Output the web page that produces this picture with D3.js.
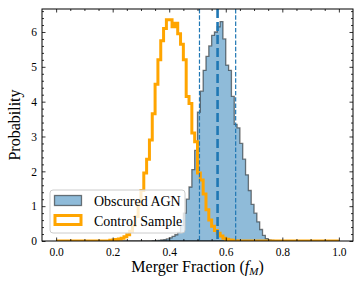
<!DOCTYPE html>
<html>
<head>
<meta charset="utf-8">
<script src="https://cdn.jsdelivr.net/npm/d3@7"></script>
<style>
  body { margin: 0; background: #fff; }
  svg text { font-family: "Liberation Serif", "Times New Roman", serif; fill: #000; }
</style>
</head>
<body>
<div id="chart"></div>
<script>
// bin edges of both histograms: 0.00, 0.01, ... 1.00
const binEdges = d3.range(0, 101).map(i => i / 100);

// Obscured AGN posterior, probability density per 0.01 bin
const agnDensity = [
  0, 0, 0, 0, 0, 0, 0, 0, 0, 0,
  0, 0, 0, 0, 0, 0, 0, 0, 0, 0,
  0, 0, 0, 0, 0, 0, 0, 0, 0, 0,
  0, 0, 0, 0, 0.01, 0.01, 0.02, 0.03, 0.04, 0.06,
  0.09, 0.13, 0.18, 0.25, 0.45, 0.8, 1.2, 1.55, 2.05, 2.6,
  3.7, 4.3, 4.9, 5.3, 5.6, 5.9, 6.0, 6.15, 6.3, 5.8,
  5.05, 4.9, 4.15, 3.35, 3.25, 2.8, 2.35, 1.9, 1.45, 1.05,
  0.8, 0.55, 0.33, 0.16, 0.07, 0.03, 0.02, 0.01, 0.01, 0,
  0, 0, 0, 0, 0, 0, 0, 0, 0, 0,
  0, 0, 0, 0, 0, 0, 0, 0, 0, 0
];

// Control sample posterior
const controlDensity = [
  0, 0, 0, 0, 0, 0, 0, 0, 0, 0,
  0, 0, 0, 0, 0, 0, 0, 0, 0, 0.02,
  0.03, 0.04, 0.06, 0.08, 0.12, 0.18, 0.28, 0.45, 0.7, 1.05,
  1.45, 1.95, 2.35, 2.9, 3.65, 4.5, 5.2, 5.75, 6.1, 6.35,
  6.35, 6.15, 6.25, 5.95, 5.65, 5.2, 4.15, 3.95, 3.1, 2.85,
  1.95, 1.75, 1.35, 0.9, 0.6, 0.42, 0.3, 0.22, 0.14, 0.08,
  0.05, 0.03, 0.02, 0.01, 0, 0, 0, 0, 0, 0,
  0, 0, 0, 0, 0, 0, 0, 0, 0, 0,
  0, 0, 0, 0, 0, 0, 0, 0, 0, 0,
  0, 0, 0, 0, 0, 0, 0, 0, 0, 0
];

// 16th / 50th / 84th percentiles of the AGN posterior
const agnPercentiles = [0.507, 0.571, 0.635];

const xTicks = [0, 0.2, 0.4, 0.6, 0.8, 1.0];
const yTicks = [0, 1, 2, 3, 4, 5, 6];
const legendLabels = ["Obscured AGN", "Control Sample"];

const W = 362, H = 289;
const m = {left: 42, right: 9, top: 9, bottom: 48};

const svg = d3.select("#chart").append("svg")
  .attr("width", W).attr("height", H);

const x = d3.scaleLinear().domain([-0.05, 1.05]).range([m.left, W - m.right]);
const y = d3.scaleLinear().domain([0, 6.66]).range([H - m.bottom, m.top]);

svg.append("clipPath").attr("id", "plotclip")
  .append("rect")
  .attr("x", m.left).attr("y", m.top)
  .attr("width", W - m.left - m.right).attr("height", H - m.top - m.bottom);

const plot = svg.append("g").attr("clip-path", "url(#plotclip)");

function steps(vals) {
  const pts = vals.map((v, i) => [binEdges[i], v]);
  pts.push([binEdges[vals.length], vals[vals.length - 1]]);
  return pts;
}

// AGN: filled step histogram
const agnPts = steps(agnDensity);
plot.append("path")
  .attr("d", d3.area().x(d => x(d[0])).y0(y(0)).y1(d => y(d[1])).curve(d3.curveStepAfter)(agnPts))
  .attr("fill", "#1f77b4").attr("fill-opacity", 0.5)
  .attr("stroke", "#000").attr("stroke-opacity", 0.5).attr("stroke-width", 1.3)
  .attr("stroke-linejoin", "miter");

// control sample: step outline
const ctrlPts = [[binEdges[0], 0]].concat(steps(controlDensity));
ctrlPts.push([binEdges[100], 0]);
plot.append("path")
  .attr("d", d3.line().x(d => x(d[0])).y(d => y(d[1])).curve(d3.curveStepAfter)(ctrlPts))
  .attr("fill", "none")
  .attr("stroke", "#ffa500").attr("stroke-width", 3)
  .attr("stroke-linejoin", "miter");

// percentile lines
plot.selectAll("line.pct")
  .data(agnPercentiles)
  .enter().append("line")
  .attr("class", "pct")
  .attr("x1", d => x(d)).attr("x2", d => x(d))
  .attr("y1", m.top).attr("y2", H - m.bottom)
  .attr("stroke", "#1f77b4")
  .attr("stroke-width", (d, i) => i === 1 ? 2.6 : 1.2)
  .attr("stroke-dasharray", (d, i) => i === 1 ? "9,4" : "4.4,1.9");

// axes with inward ticks on all four sides
function tickAxis(axis, tr, vals, len, labels) {
  const g = svg.append("g").attr("transform", tr)
    .call(axis.tickValues(vals).tickSizeInner(-len).tickSizeOuter(0).tickPadding(4));
  g.select(".domain").remove();
  g.selectAll(".tick line").attr("stroke", "#000").attr("stroke-width", 0.8);
  if (!labels) g.selectAll(".tick text").remove();
  return g;
}
const xMinor = d3.range(0, 21).map(i => i * 0.05).filter(v => Math.round(v * 100) % 20 !== 0);
const yMinor = d3.range(0, 34).map(i => i * 0.2).filter(v => Math.abs(v - Math.round(v)) > 1e-6);

const xb = tickAxis(d3.axisBottom(x).tickFormat(d3.format(".1f")), `translate(0,${H - m.bottom})`, xTicks, 3.5, true);
xb.selectAll(".tick text").attr("font-size", 11.5).attr("dy", null).attr("y", 14.5)
  .attr("dominant-baseline", "auto");
tickAxis(d3.axisBottom(x), `translate(0,${H - m.bottom})`, xMinor, 2, false);
tickAxis(d3.axisTop(x), `translate(0,${m.top})`, xTicks, 3.5, false);
tickAxis(d3.axisTop(x), `translate(0,${m.top})`, xMinor, 2, false);

const yl = tickAxis(d3.axisLeft(y).tickFormat(d3.format("d")), `translate(${m.left},0)`, yTicks, 3.5, true);
yl.selectAll(".tick text").attr("font-size", 11.5).attr("x", -5);
tickAxis(d3.axisLeft(y), `translate(${m.left},0)`, yMinor, 2, false);
tickAxis(d3.axisRight(y), `translate(${W - m.right},0)`, yTicks, 3.5, false);
tickAxis(d3.axisRight(y), `translate(${W - m.right},0)`, yMinor, 2, false);

svg.append("rect")
  .attr("x", m.left).attr("y", m.top)
  .attr("width", W - m.left - m.right).attr("height", H - m.top - m.bottom)
  .attr("fill", "none").attr("stroke", "#000").attr("stroke-width", 1);

// axis titles
const xt = svg.append("text")
  .attr("x", (m.left + W - m.right) / 2).attr("y", 272)
  .attr("text-anchor", "middle").attr("font-size", 16);
xt.append("tspan").text("Merger Fraction (");
xt.append("tspan").attr("font-style", "italic").text("f");
xt.append("tspan").attr("font-style", "italic").attr("font-size", 11).attr("dy", 2.5).text("M");
xt.append("tspan").attr("dy", -2.5).text(")");

svg.append("text")
  .attr("transform", `translate(20,${(m.top + H - m.bottom) / 2}) rotate(-90)`)
  .attr("text-anchor", "middle").attr("font-size", 16)
  .text("Probability");

// legend
const lg = svg.append("g").attr("transform", "translate(50,190)");
lg.append("rect")
  .attr("width", 135).attr("height", 43).attr("rx", 3)
  .attr("fill", "#fff").attr("fill-opacity", 0.8)
  .attr("stroke", "#ccc").attr("stroke-width", 1);
lg.append("rect")
  .attr("x", 4.5).attr("y", 5.5).attr("width", 27).attr("height", 10)
  .attr("fill", "#1f77b4").attr("fill-opacity", 0.5)
  .attr("stroke", "#000").attr("stroke-opacity", 0.5).attr("stroke-width", 1.3);
lg.append("rect")
  .attr("x", 5).attr("y", 25.5).attr("width", 26).attr("height", 9)
  .attr("fill", "none")
  .attr("stroke", "#ffa500").attr("stroke-width", 3);
lg.selectAll("text.lab")
  .data(legendLabels)
  .enter().append("text")
  .attr("class", "lab")
  .attr("x", 44).attr("y", (d, i) => 16 + i * 20)
  .attr("font-size", 14)
  .text(d => d);
</script>
</body>
</html>
